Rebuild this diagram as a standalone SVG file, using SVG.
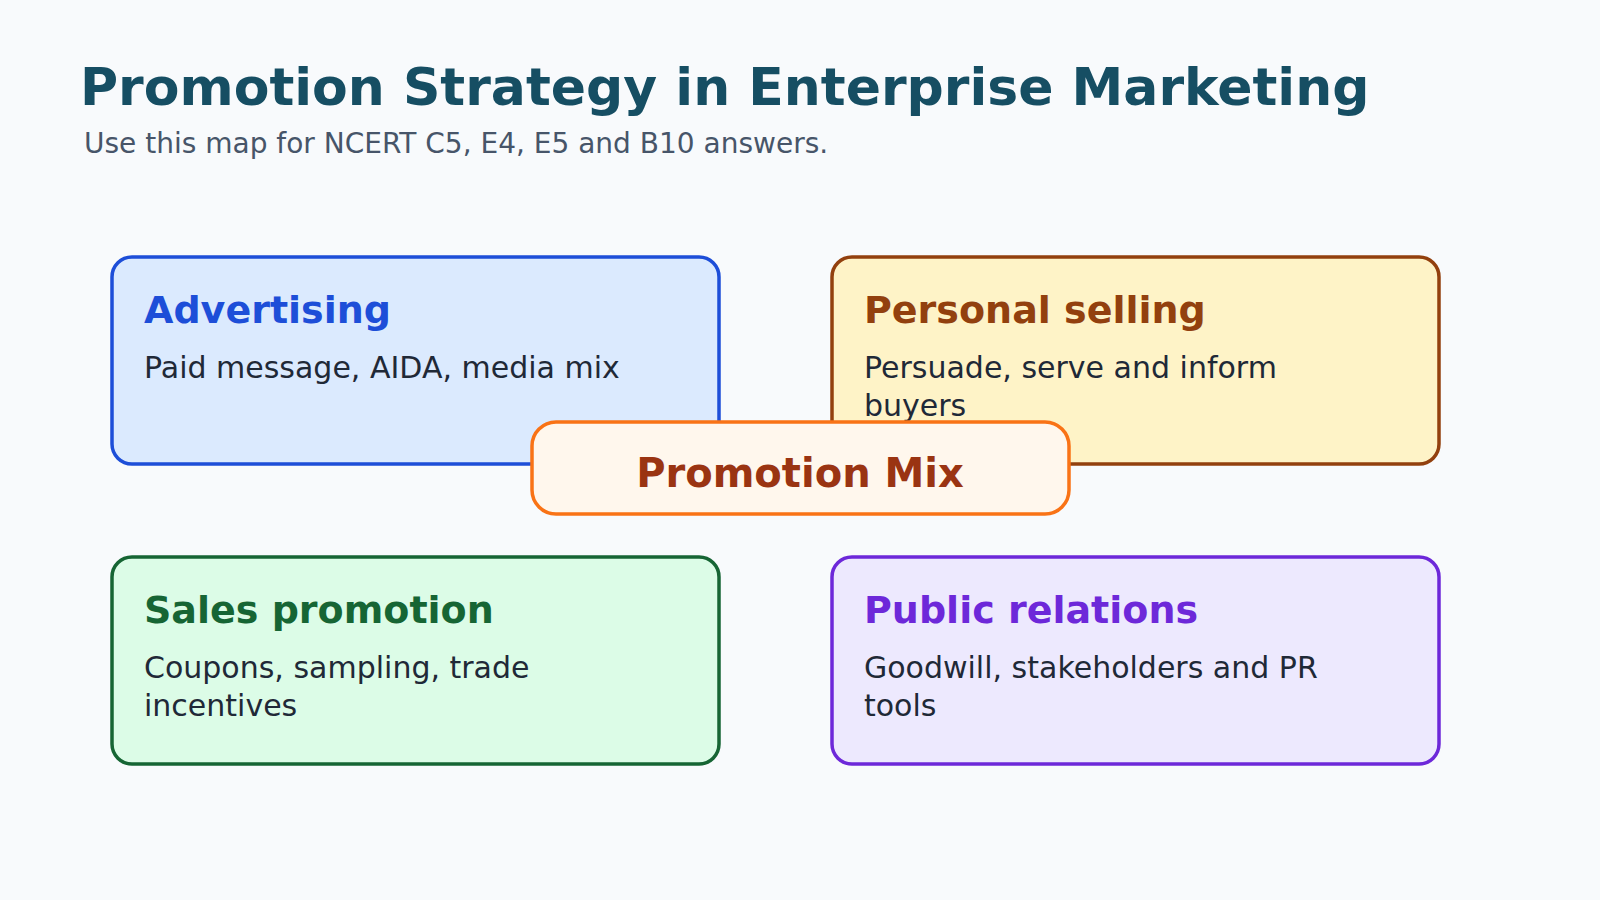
<svg xmlns="http://www.w3.org/2000/svg" width="1600" height="900" viewBox="0 0 1600 900">
<style>
  text { font-family: "DejaVu Sans", "Noto Sans", sans-serif; }
  .title { font-size: 52px; font-weight: bold; fill: #164e63; }
  .sub { font-size: 28px; fill: #475569; }
  .box { stroke-width: 3.5; }
  .head { font-size: 38px; font-weight: bold; }
  .body { font-size: 30px; fill: #1f2937; }
  .center { font-size: 40px; font-weight: bold; fill: #9a3412; text-anchor: middle; }
</style>
<rect width="1600" height="900" fill="#f8fafc"/>
<g id="header">
  <text class="title" x="80" y="105">Promotion Strategy in Enterprise Marketing</text>
  <text class="sub" x="84" y="153">Use this map for NCERT C5, E4, E5 and B10 answers.</text>
</g>
<g id="connectors"></g>
<g id="advertising">
  <rect class="box" x="112" y="257" width="607" height="207" rx="20" fill="#dbeafe" stroke="#1d4ed8"/>
  <text class="head" x="144" y="323" fill="#1d4ed8">Advertising</text>
  <text class="body" x="144" y="378">Paid message, AIDA, media mix</text>
</g>
<g id="personal-selling">
  <rect class="box" x="832" y="257" width="607" height="207" rx="20" fill="#fef3c7" stroke="#92400e"/>
  <text class="head" x="864" y="323" fill="#92400e">Personal selling</text>
  <text class="body" x="864" y="378">Persuade, serve and inform</text>
  <text class="body" x="864" y="416">buyers</text>
</g>
<g id="sales-promotion">
  <rect class="box" x="112" y="557" width="607" height="207" rx="20" fill="#dcfce7" stroke="#166534"/>
  <text class="head" x="144" y="623" fill="#166534">Sales promotion</text>
  <text class="body" x="144" y="678">Coupons, sampling, trade</text>
  <text class="body" x="144" y="716">incentives</text>
</g>
<g id="public-relations">
  <rect class="box" x="832" y="557" width="607" height="207" rx="20" fill="#ede9fe" stroke="#6d28d9"/>
  <text class="head" x="864" y="623" fill="#6d28d9">Public relations</text>
  <text class="body" x="864" y="678">Goodwill, stakeholders and PR</text>
  <text class="body" x="864" y="716">tools</text>
</g>
<g id="promotion-mix">
  <rect class="box" x="532" y="422" width="537" height="92" rx="24" fill="#fff7ed" stroke="#f97316"/>
  <text class="center" x="800" y="487">Promotion Mix</text>
</g>
</svg>
